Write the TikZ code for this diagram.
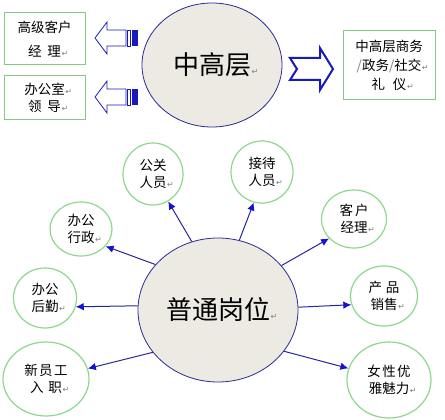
\documentclass[tikz,border=0pt]{standalone}
\usepackage{fontspec}
\setmainfont{Noto Sans CJK SC}
\newfontfamily\dvfont{DejaVu Sans}
\usetikzlibrary{shapes.geometric,arrows.meta}
\definecolor{navy}{HTML}{2A2A96}
\definecolor{ellfill}{HTML}{ECEAE2}
\definecolor{grn}{HTML}{8CD88C}
\definecolor{boxgrn}{HTML}{84C884}
\definecolor{arrblue}{HTML}{1A1AB8}
\definecolor{connblue}{HTML}{26269A}
\definecolor{tipblue}{HTML}{1212D2}
\newcommand\retmk{\rlap{\kern0.5pt{\dvfont\fontsize{8}{8}\selectfont\color{gray}↵}}}
\newcommand\gsl{{\color{gray}/}}
\tikzset{
  bigell/.style={ellipse, draw=navy, line width=0.8pt, fill=ellfill, inner sep=0pt,
    font=\fontsize{26}{30}\selectfont},
  circ/.style={ellipse, draw=grn, line width=1.2pt, fill=white, inner sep=0pt, align=center,
    font=\fontsize{13.5}{17}\selectfont},
  gbox/.style={rectangle, draw=boxgrn, line width=1pt, fill=white, inner sep=0pt, align=center},
  conn/.style={draw=connblue, line width=1pt, -{Latex[length=8pt,width=7.5pt,color=tipblue,fill=tipblue]}},
  blockarr/.style={draw=arrblue, line width=0.8pt, fill=white, line join=miter},
}
\begin{document}
\begin{tikzpicture}[x=1pt,y=-1pt]
\fill[white] (0,0) rectangle (445,420);
\useasboundingbox (0,0) rectangle (445,420);

% top part
\node[bigell, minimum width=140pt, minimum height=124pt] (top) at (212,65) {中高层\retmk};
\node[gbox, minimum width=81pt, minimum height=52pt, font=\fontsize{13.5}{24}\selectfont] (b1) at (44.5,39) {高级客户\\经\kern6pt 理\retmk};
\node[gbox, minimum width=81pt, minimum height=44pt, font=\fontsize{13.5}{17}\selectfont] (b2) at (44.5,98) {办公室\retmk\\领\kern6pt 导\retmk};
\node[gbox, minimum width=92pt, minimum height=69pt, font=\fontsize{13.5}{19}\selectfont] (b3) at (389,65.5) {中高层商务\\\gsl 政务\gsl 社交\retmk\\礼\kern8pt 仪\retmk};

% left striped block arrows
\foreach \c in {38,97}{
  \draw[blockarr] (95,\c) -- (107,\c-16) -- (107,\c-8) -- (126,\c-8) -- (126,\c+8) -- (107,\c+8) -- (107,\c+16) -- cycle;
  \draw[draw=arrblue, line width=0.6pt, fill=white] (127.5,\c-8) rectangle (130,\c+8);
  \fill[arrblue] (131.5,\c-8) rectangle (137.5,\c+8);
}
% right notched block arrow
\draw[blockarr, line width=2pt] (290,58) -- (320,58) -- (320,48) -- (333,69) -- (320,90) -- (320,80) -- (290,80) -- (297,69) -- cycle;

% bottom part
\node[bigell, minimum width=160pt, minimum height=144pt] (bot) at (218,310) {普通岗位\retmk};

\node[circ, minimum width=60pt, minimum height=62pt] (gg) at (153,174) {公关\\人员\retmk};
\node[circ, minimum width=62pt, minimum height=62pt] (jd) at (262,172) {接待\\人员\retmk};
\node[circ, minimum width=62pt, minimum height=54pt] (xz) at (81,229) {办公\\行政\retmk};
\node[circ, minimum width=65pt, minimum height=58pt] (kh) at (354,219) {客\kern2pt 户\\经理\retmk};
\node[circ, minimum width=63pt, minimum height=60pt] (hq) at (45,298) {办公\\后勤\retmk};
\node[circ, minimum width=67pt, minimum height=60pt] (cp) at (384,296) {产\kern4pt 品\\销售\retmk};
\node[circ, minimum width=86pt, minimum height=74pt] (xy) at (46,379) {新\kern1.5pt 员\kern1.5pt 工\\入\kern5pt 职\retmk};
\node[circ, minimum width=84pt, minimum height=76pt] (nx) at (389,380) {女\kern1.5pt 性\kern1.5pt 优\\雅魅力\retmk};

\draw[conn] (bot.111.8) -- (gg.-61);
\draw[conn] (bot.144) -- (xz.-35);
\draw[conn] (bot.73.7) -- (jd.-105);
\draw[conn] (bot.35.9) -- (kh.-142);
\draw[conn] (bot.177.9) -- (hq.-16);
\draw[conn] (bot.213.7) -- (xy.14);
\draw[conn] (bot.2.1) -- (cp.195);
\draw[conn] (bot.-32.5) -- (nx.164);
\end{tikzpicture}
\end{document}
